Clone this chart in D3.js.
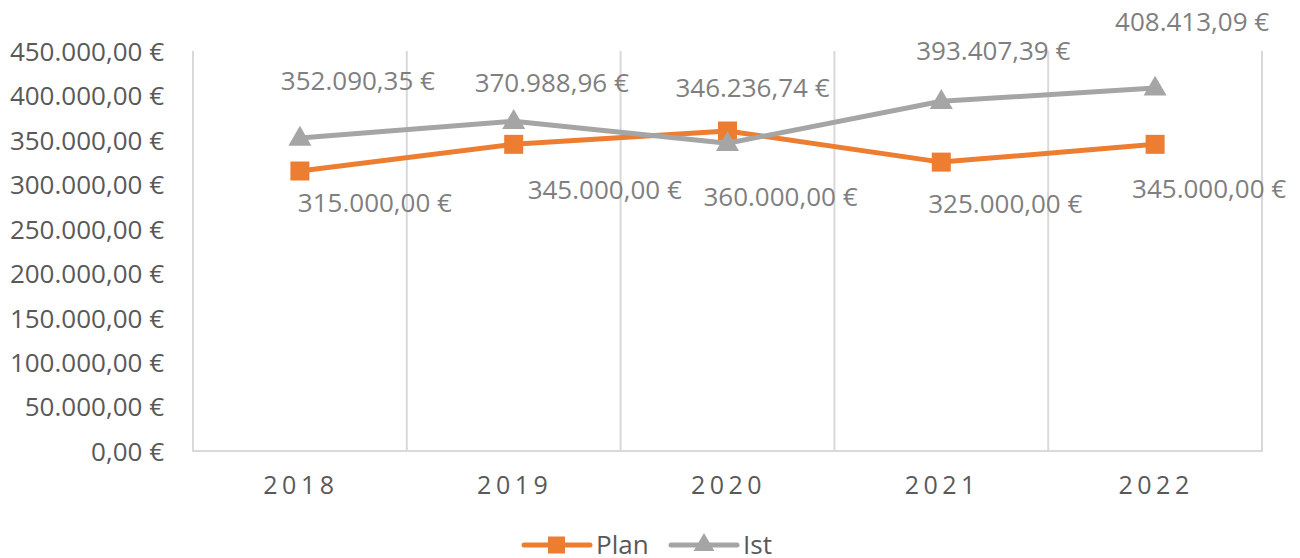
<!DOCTYPE html>
<html>
<head>
<meta charset="utf-8">
<script src="https://cdn.jsdelivr.net/npm/d3@7"></script>
<style>
  html, body { margin: 0; padding: 0; background: #fff; }
  svg { display: block; font-family: "Open Sans", sans-serif; }
</style>
</head>
<body>
<div id="chart"></div>
<script>
  'use strict';

  // chart data
  var years = ['2018', '2019', '2020', '2021', '2022'];
  var planValues = [315000, 345000, 360000, 325000, 345000];
  var istValues = [352090.35, 370988.96, 346236.74, 393407.39, 408413.09];
  var yTicks = [0, 50000, 100000, 150000, 200000, 250000, 300000, 350000, 400000, 450000];

  // data label offsets from their point (labels were moved by hand in the original)
  var planLabelDx = [75, 91, 53, 64, 54];
  var planLabelDy = [32, 45, 66, 42, 44];
  var istLabelDx = [58, 38, 25, 52, 37];
  var istLabelDy = [-57, -39, -56, -51, -66];

  (function () {
    var width = 1300,
        height = 558,
        plotLeft = 193,
        plotRight = 1262,
        plotTop = 51,
        plotBottom = 451;

    var orange = '#ED7D31',
        grey = '#A5A5A5',
        gridColor = '#D9D9D9';

    var de = d3.formatLocale({
      decimal: ',',
      thousands: '.',
      grouping: [3],
      currency: ['', ' €']
    });
    var euro = function (v) { return de.format(',.2f')(v) + ' €'; };

    var svg = d3.select('#chart')
      .append('svg')
      .attr('width', width)
      .attr('height', height);

    var x = d3.scaleBand()
      .domain(years)
      .range([plotLeft, plotRight])
      .padding(0);

    var y = d3.scaleLinear()
      .domain([0, 450000])
      .range([plotBottom, plotTop]);

    var cx = function (d, i) { return x(years[i]) + x.bandwidth() / 2; };

    // vertical gridlines at category boundaries
    var bounds = years.map(function (d) { return x(d); }).concat([x.range()[1]]);
    svg.append('g')
      .selectAll('line')
      .data(bounds)
      .enter()
      .append('line')
        .attr('x1', function (d) { return d; })
        .attr('x2', function (d) { return d; })
        .attr('y1', plotTop)
        .attr('y2', plotBottom)
        .attr('stroke', gridColor)
        .attr('stroke-width', 2);

    // bottom axis line
    svg.append('line')
      .attr('x1', plotLeft - 1)
      .attr('x2', plotRight + 1)
      .attr('y1', plotBottom)
      .attr('y2', plotBottom)
      .attr('stroke', gridColor)
      .attr('stroke-width', 2);

    // y axis
    var yAxis = svg.append('g')
      .attr('transform', 'translate(' + (plotLeft - 29) + ',0)')
      .call(d3.axisLeft(y).tickValues(yTicks).tickSize(0).tickPadding(0).tickFormat(euro));
    yAxis.select('.domain').remove();
    yAxis.selectAll('text')
      .attr('fill', '#595959')
      .attr('dy', '0.36em')
      .style('font-size', '26px')
      .style('font-family', '"Open Sans", sans-serif');

    // x axis
    var xAxis = svg.append('g')
      .attr('transform', 'translate(0,' + plotBottom + ')')
      .call(d3.axisBottom(x).tickSize(0).tickPadding(0));
    xAxis.select('.domain').remove();
    xAxis.selectAll('text')
      .attr('fill', '#595959')
      .attr('y', 43)
      .attr('dx', '1px')
      .attr('dy', 0)
      .style('font-size', '25px')
      .style('letter-spacing', '4.5px')
      .style('font-family', '"Open Sans", sans-serif');

    var line = d3.line()
      .x(cx)
      .y(function (d) { return y(d); });

    var triangle = d3.symbol().type(d3.symbolTriangle).size(230);

    function drawSeries(values, color, marker) {
      svg.append('path')
        .datum(values)
        .attr('fill', 'none')
        .attr('stroke', color)
        .attr('stroke-width', 5)
        .attr('stroke-linejoin', 'round')
        .attr('stroke-linecap', 'round')
        .attr('d', line);

      var g = svg.append('g');
      if (marker === 'square') {
        g.selectAll('rect')
          .data(values)
          .enter()
          .append('rect')
            .attr('x', function (d, i) { return cx(d, i) - 9.5; })
            .attr('y', function (d) { return y(d) - 9.5; })
            .attr('width', 19)
            .attr('height', 19)
            .attr('fill', color);
      } else {
        g.selectAll('path')
          .data(values)
          .enter()
          .append('path')
            .attr('transform', function (d, i) { return 'translate(' + cx(d, i) + ',' + (y(d) + 1) + ')'; })
            .attr('d', triangle)
            .attr('fill', color);
      }
    }

    function drawLabels(values, dxs, dys) {
      svg.append('g')
        .selectAll('text')
        .data(values)
        .enter()
        .append('text')
          .attr('x', function (d, i) { return cx(d, i) + dxs[i]; })
          .attr('y', function (d, i) { return y(d) + dys[i]; })
          .attr('dy', '0.36em')
          .attr('text-anchor', 'middle')
          .attr('fill', '#7F7F7F')
          .style('font-size', '26px')
          .text(euro);
    }

    drawSeries(planValues, orange, 'square');
    drawSeries(istValues, grey, 'triangle');
    drawLabels(planValues, planLabelDx, planLabelDy);
    drawLabels(istValues, istLabelDx, istLabelDy);

    // legend
    var legendItems = [
      {name: 'Plan', color: orange, marker: 'square', x0: 524},
      {name: 'Ist', color: grey, marker: 'triangle', x0: 671}
    ];
    var legendY = 545;
    var legend = svg.append('g')
      .selectAll('g')
      .data(legendItems)
      .enter()
      .append('g')
        .attr('transform', function (d) { return 'translate(' + d.x0 + ',' + legendY + ')'; });

    legend.append('line')
      .attr('x1', 0)
      .attr('x2', 66)
      .attr('stroke', function (d) { return d.color; })
      .attr('stroke-width', 5)
      .attr('stroke-linecap', 'round');

    legend.filter(function (d) { return d.marker === 'square'; })
      .append('rect')
        .attr('x', 24)
        .attr('y', -8.5)
        .attr('width', 17)
        .attr('height', 17)
        .attr('fill', function (d) { return d.color; });

    legend.filter(function (d) { return d.marker === 'triangle'; })
      .append('path')
        .attr('transform', 'translate(33,0)')
        .attr('d', d3.symbol().type(d3.symbolTriangle).size(190))
        .attr('fill', function (d) { return d.color; });

    legend.append('text')
      .attr('x', 72)
      .attr('y', 9)
      .attr('fill', '#595959')
      .style('font-size', '26px')
      .text(function (d) { return d.name; });
  })();
</script>
</body>
</html>
